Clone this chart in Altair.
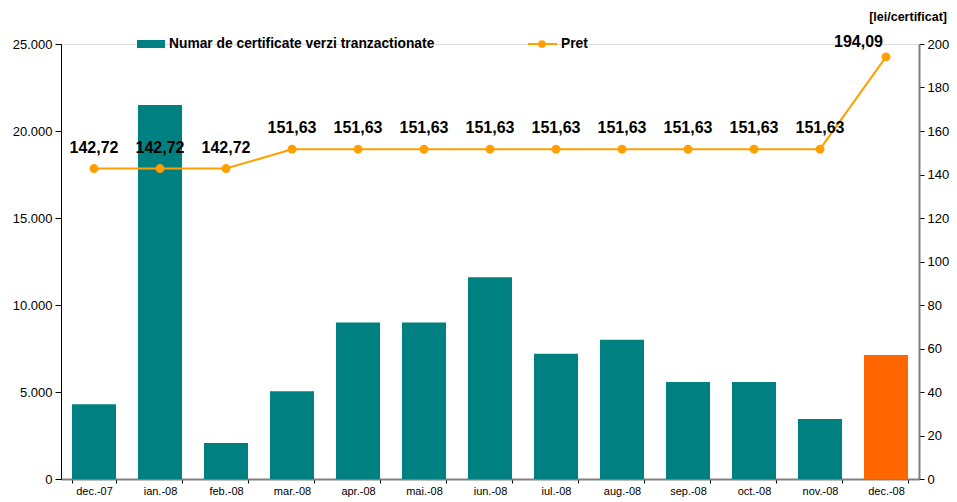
import altair as alt
import pandas as pd

months = ["dec.-07", "ian.-08", "feb.-08", "mar.-08", "apr.-08", "mai.-08", "iun.-08",
          "iul.-08", "aug.-08", "sep.-08", "oct.-08", "nov.-08", "dec.-08"]
certificates = [4300, 21500, 2070, 5050, 9000, 9000, 11600, 7200, 8000, 5575, 5575, 3450, 7130]
price = [142.72, 142.72, 142.72, 151.63, 151.63, 151.63, 151.63, 151.63, 151.63, 151.63, 151.63, 151.63, 194.09]
bar_colors = ["#008080"] * 12 + ["#FF6600"]

df = pd.DataFrame({
    "month": months,
    "cert": certificates,
    "price": price,
    "color": bar_colors,
})
df["label"] = df["price"].map(lambda v: f"{v:.2f}".replace(".", ","))
df["last"] = [False] * 12 + [True]

FONT = "Liberation Sans"
LINE = "#FFA000"

x = alt.X("month:N", sort=months, title=None,
          scale=alt.Scale(paddingInner=0.333),
          axis=alt.Axis(labelAngle=0, tickBand="extent", domainColor="#808080",
                        tickColor="#000000", labelFontSize=11, labelColor="#000000",
                        labelPadding=2, tickSize=4, domainWidth=2, labelFont=FONT))

bars = alt.Chart(df).mark_bar().encode(
    x=x,
    y=alt.Y("cert:Q", title=None, scale=alt.Scale(domain=[0, 25000]),
            axis=alt.Axis(values=[0, 5000, 10000, 15000, 20000, 25000], orient="left",
                          labelExpr="replace(format(datum.value, ','), ',', '.')",
                          domainColor="#000000", tickColor="#000000", tickSize=6,
                          labelFontSize=13, labelColor="#000000", labelFont=FONT,
                          labelPadding=3, grid=False)),
    color=alt.Color("color:N", scale=None),
)

yr = alt.Y("price:Q", title=None, scale=alt.Scale(domain=[0, 200]),
           axis=alt.Axis(values=list(range(0, 201, 20)), orient="right",
                         domainColor="#808080", tickColor="#000000", tickSize=5,
                         labelFontSize=13, labelColor="#000000", labelFont=FONT,
                         grid=False, domainWidth=2, labelPadding=3))

line = alt.Chart(df).mark_line(color=LINE, strokeWidth=2).encode(x=alt.X("month:N", sort=months), y=yr)
points = alt.Chart(df).mark_point(color=LINE, filled=True, size=80, opacity=1).encode(
    x=alt.X("month:N", sort=months), y=yr)
labels = alt.Chart(df).transform_filter("!datum.last").mark_text(
    dy=-21, fontSize=16, fontWeight="bold", font=FONT, color="#000000").encode(
    x=alt.X("month:N", sort=months), y=yr, text="label:N")
label_last = alt.Chart(df).transform_filter("datum.last").mark_text(
    dy=-15, dx=-3, align="right", fontSize=16, fontWeight="bold", font=FONT, color="#000000").encode(
    x=alt.X("month:N", sort=months), y=yr, text="label:N")

# legend
leg_rect = alt.Chart(df).transform_filter("datum.last").mark_rect(color="#008080").encode(
    x=alt.value(76), x2=alt.value(104), y=alt.value(-4), y2=alt.value(4))
leg_text1 = alt.Chart(df).transform_filter("datum.last").mark_text(
    align="left", baseline="middle", fontSize=13.8, fontWeight="bold", font=FONT, color="#000000").encode(
    x=alt.value(108), y=alt.value(0), text=alt.value("Numar de certificate verzi tranzactionate"))
leg_line = alt.Chart(df).transform_filter("datum.last").mark_rule(color=LINE, strokeWidth=2).encode(
    x=alt.value(467), x2=alt.value(496), y=alt.value(0))
leg_pt = alt.Chart(df).transform_filter("datum.last").mark_point(
    color=LINE, filled=True, size=60, opacity=1).encode(x=alt.value(481), y=alt.value(0))
leg_text2 = alt.Chart(df).transform_filter("datum.last").mark_text(
    align="left", baseline="middle", fontSize=13.8, fontWeight="bold", font=FONT, color="#000000").encode(
    x=alt.value(500), y=alt.value(0), text=alt.value("Pret"))
unit = alt.Chart(df).transform_filter("datum.last").mark_text(
    align="right", baseline="middle", fontSize=12.5, fontWeight="bold", font=FONT, color="#000000").encode(
    x=alt.value(886), y=alt.value(-27), text=alt.value("[lei/certificat]"))

right_layer = alt.layer(line, points, labels, label_last)
chart = alt.layer(bars, right_layer, leg_rect, leg_text1, leg_line, leg_pt, leg_text2, unit).resolve_scale(
    y="independent"
).properties(
    width=858, height=435,
    autosize=alt.AutoSizeParams(type="none"),
    padding={"left": 53, "top": 36, "right": 30, "bottom": 20},
).configure_view(stroke="transparent", strokeWidth=0).configure(background="#FFFFFF")

chart.save("out.html", embed_options={"renderer": "svg", "actions": False})
